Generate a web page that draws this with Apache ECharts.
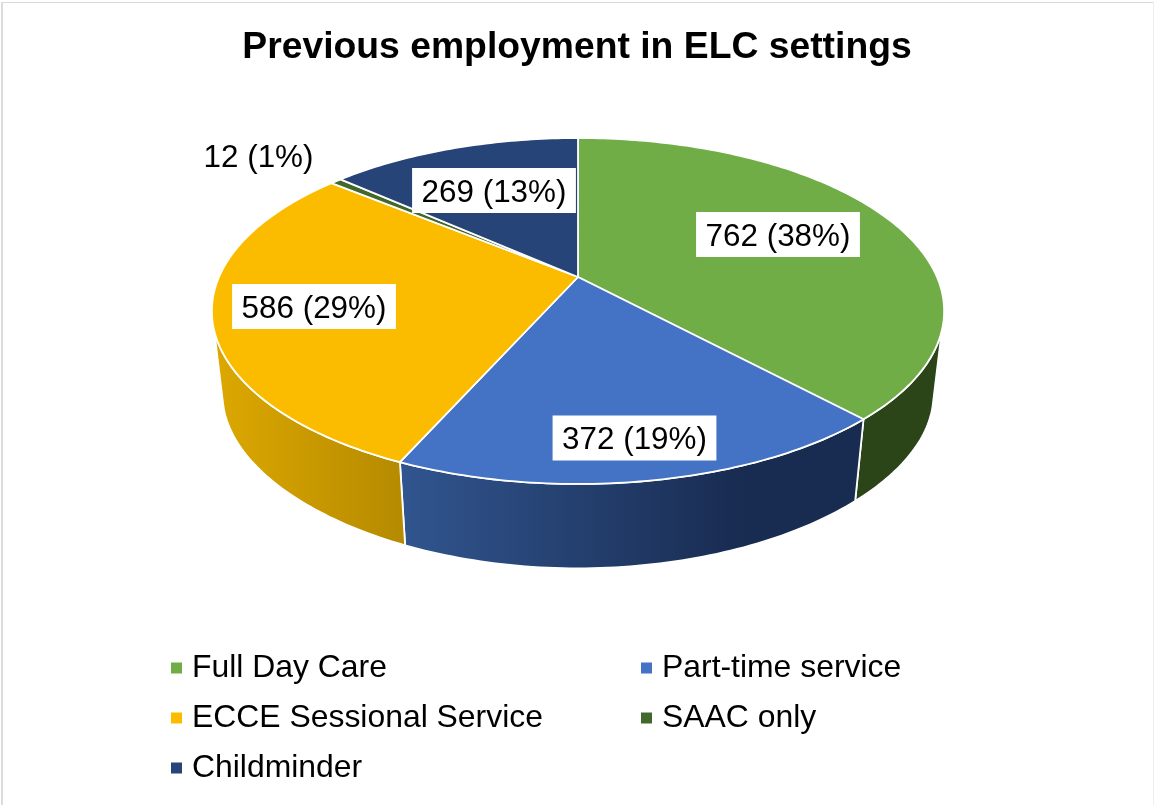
<!DOCTYPE html>
<html>
<head>
<meta charset="utf-8">
<style>html,body{margin:0;padding:0;background:#fff}#main{width:1154px;height:805px}</style>
<script src="https://cdn.jsdelivr.net/npm/echarts@6/dist/echarts.min.js"></script>
</head>
<body>
<div id="main"></div>
<script>
// chart data
const categories = ['Full Day Care', 'Part-time service', 'ECCE Sessional Service', 'SAAC only', 'Childminder'];
const values = [762, 372, 586, 12, 269];
const percents = [38, 19, 29, 1, 13];

// styles, one per slice
const topColors = ['#70AD47', '#4472C4', '#FBBC00', '#43682B', '#264478'];
const wallFrom = ['#2B4519', '#31558F', '#DDA800', '#2B4519', '#1A2D55'];
const wallTo = ['#2B4519', '#182B50', '#B58A00', '#2B4519', '#1A2D55'];

// projected disc: pixels from the pivot, y upwards
const topDisc = { sx: 359, sy: 166.3, dy: 0, kx: 0.1965, ky: 0.1965 };
const baseDisc = { sx: 348.5, sy: 154, dy: -86, kx: 0.1965, ky: 0.25 };
const labelBoxes = [
  { x: 778, y: 212, bg: true },
  { x: 634.5, y: 415.5, bg: true },
  { x: 314, y: 284, bg: true },
  { x: 258.5, y: 142.5, bg: false },
  { x: 494, y: 168, bg: true }
];

const total = values.reduce((a, b) => a + b, 0);

function project(disc, deg) {
  const t = deg * Math.PI / 180;
  const u = Math.sin(t), v = Math.cos(t);
  return [disc.sx * u / (1 + disc.kx * v), disc.dy + disc.sy * v / (1 + disc.ky * v)];
}

function arc(disc, a, b) {
  const pts = [];
  const n = Math.max(2, Math.ceil(Math.abs(b - a)));
  for (let i = 0; i <= n; i++) pts.push(project(disc, a + (b - a) * i / n));
  return pts;
}

// the side wall only shows on the front part of the rim, up to each disc's widest point
function frontArc(disc, start, end) {
  const edge = Math.acos(-disc.ky) * 180 / Math.PI;
  const a = Math.max(start, edge);
  const b = Math.min(end, 360 - edge);
  return b > a ? arc(disc, a, b) : null;
}

function sliceItem(idx, start, end) {
  return function (params, api) {
    const toPx = p => api.coord(p);
    const children = [];
    const upper = frontArc(topDisc, start, end);
    const lower = frontArc(baseDisc, start, end);
    if (upper && lower) {
      const wall = upper.concat(lower.reverse()).map(toPx);
      const xs = wall.map(p => p[0]);
      children.push({
        type: 'polygon',
        shape: { points: wall },
        style: {
          fill: new echarts.graphic.LinearGradient(Math.min(...xs), 0, Math.max(...xs), 0, [
            { offset: 0, color: wallFrom[idx] },
            { offset: idx === 1 ? 0.75 : 1, color: wallTo[idx] },
            { offset: 1, color: wallTo[idx] }
          ], true),
          stroke: '#fff',
          lineWidth: 1.8,
          lineJoin: 'round'
        }
      });
    }
    const top = [[0, 0]].concat(arc(topDisc, start, end)).map(toPx);
    children.push({
      type: 'polygon',
      shape: { points: top },
      style: { fill: topColors[idx], stroke: '#fff', lineWidth: 1.8, lineJoin: 'round' }
    });
    return { type: 'group', children };
  };
}

function labelItem(idx) {
  return function () {
    const box = labelBoxes[idx];
    return {
      type: 'text',
      x: box.x,
      y: box.y,
      style: {
        text: values[idx] + ' (' + percents[idx] + '%)',
        font: '31.4px "Liberation Sans", Arial, sans-serif',
        fill: '#000',
        align: 'center',
        verticalAlign: 'top',
        backgroundColor: box.bg ? '#fff' : 'transparent',
        padding: box.bg ? [9.5, 9.5, 4.5, 9.5] : 0
      }
    };
  };
}

const series = [];
let running = 0;
categories.forEach(function (name, i) {
  const start = running / total * 360;
  running += values[i];
  const end = running / total * 360;
  series.push({
    type: 'custom',
    name: name,
    coordinateSystem: 'cartesian2d',
    itemStyle: { color: topColors[i] },
    renderItem: sliceItem(i, start, end),
    data: [[0, values[i]]],
    silent: true,
    z: 2
  });
});
// labels sit over every slice
categories.forEach(function (name, i) {
  series.push({
    type: 'custom',
    coordinateSystem: 'cartesian2d',
    renderItem: labelItem(i),
    data: [[0, values[i]]],
    silent: true,
    z: 5
  });
});

function legendCol(names, left) {
  return {
    data: names,
    orient: 'vertical',
    left: left,
    top: 644,
    itemGap: 12,
    itemWidth: 11,
    itemHeight: 11,
    icon: 'rect',
    selectedMode: false,
    textStyle: {
      fontFamily: '"Liberation Sans", Arial, sans-serif',
      fontSize: 31.9,
      lineHeight: 36,
      color: '#000',
      padding: [2, 0, 0, 5]
    }
  };
}

const chart = echarts.init(document.getElementById('main'), null, { renderer: 'canvas' });
chart.setOption({
  animation: false,
  backgroundColor: '#fff',
  title: {
    text: 'Previous employment in ELC settings',
    left: 'center',
    top: 24,
    textStyle: { fontFamily: '"Liberation Sans", Arial, sans-serif', fontSize: 37.3, fontWeight: 'bold', color: '#000' }
  },
  grid: { left: 212, width: 732, top: 138, height: 430 },
  xAxis: { type: 'value', min: -366, max: 366, show: false },
  yAxis: { type: 'value', min: -291, max: 139, show: false },
  legend: [
    legendCol([categories[0], categories[2], categories[4]], 166),
    legendCol([categories[1], categories[3]], 636)
  ],
  // faint frame of the original chart area
  graphic: [
    { type: 'rect', shape: { x: 1, y: 2, width: 2, height: 803 }, style: { fill: '#DCDCDC' }, silent: true },
    { type: 'rect', shape: { x: 1, y: 2, width: 1153, height: 1 }, style: { fill: '#D9D9D9' }, silent: true },
    { type: 'rect', shape: { x: 1153, y: 2, width: 1, height: 803 }, style: { fill: '#EEEEEE' }, silent: true }
  ],
  series: series
});
</script>
</body>
</html>
